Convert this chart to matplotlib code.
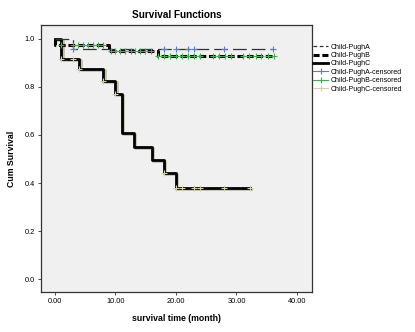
import numpy as np
import matplotlib
matplotlib.use("Agg")
import matplotlib.pyplot as plt
from matplotlib.lines import Line2D

plt.rcParams['font.family'] = ['Liberation Sans', 'DejaVu Sans']

# Kaplan-Meier step curves (time in months, cumulative survival)
a_time = [0, 3, 36.1]
a_surv = [1.0, 0.957, 0.957]
b_time = [0, 0, 9, 17, 36.2]
b_surv = [1.0, 0.975, 0.950, 0.928, 0.928]
c_time = [0, 1, 4, 8, 10, 11, 13, 16, 18, 20, 32.2]
c_surv = [1.0, 0.917, 0.875, 0.825, 0.771, 0.607, 0.551, 0.496, 0.441, 0.378, 0.378]

# censored times
a_cens = [3, 18, 20, 22, 23, 28, 36.1]
b_cens = [1, 3, 3.8, 4.6, 5.4, 6.2, 7.1, 7.9,
          9.2, 10, 10.8, 11.6, 12.5, 13.3, 14.1, 14.9, 15.9,
          17.1, 18, 19, 20, 21, 22, 23, 24, 26.2, 27.1, 28.1, 29.1,
          31.1, 32.1, 33.2, 34.1, 35.2, 36.2]
c_cens = [1, 3, 4, 8, 10, 18, 20, 21, 23, 24, 28, 32.2]

labels = ["Child-PughA", "Child-PughB", "Child-PughC",
          "Child-PughA-censored", "Child-PughB-censored", "Child-PughC-censored"]
blue = '#5b7bd0'
green = '#3cb34a'
tan = '#d6cf9e'


def surv_at(times, surv, t):
    # survival value of a step curve at the censor time
    idx = np.searchsorted(times, t, side='right') - 1
    return np.array(surv)[idx]


fig = plt.figure(figsize=(4.15, 3.32), dpi=100)
ax = fig.add_axes([0.099, 0.12, 0.653, 0.805])
ax.set_facecolor('#f0f0f0')

# C curve with pale shadow
ax.plot(np.array(c_time) + 0.25, np.array(c_surv) - 0.004, drawstyle='steps-post',
        color='#c0c0b0', lw=2.0, zorder=2)
ax.plot(c_time, c_surv, drawstyle='steps-post', color='black', lw=2.0, zorder=3)
ax.plot(b_time, b_surv, drawstyle='steps-post', color='black', lw=2.2,
        dashes=(2.2, 0.9), zorder=3)
ax.plot(a_time, a_surv, drawstyle='steps-post', color='#333333', lw=0.9,
        dashes=(11, 4), zorder=4)

ms = 4
ax.plot(a_cens, [surv_at(a_time, a_surv, t) for t in a_cens], ls='none',
        marker='+', ms=ms, mew=0.8, color=blue, zorder=5)
ax.plot(b_cens, [surv_at(b_time, b_surv, t) for t in b_cens], ls='none',
        marker='+', ms=ms, mew=0.8, color=green, zorder=5)
ax.plot(c_cens, [surv_at(c_time, c_surv, t) for t in c_cens], ls='none',
        marker='+', ms=ms, mew=0.8, color=tan, zorder=5)

ax.set_xlim(-2.3, 42.5)
ax.set_ylim(-0.054, 1.058)
ax.set_xticks([0, 10, 20, 30, 40])
ax.set_xticklabels(['0.00', '10.00', '20.00', '30.00', '40.00'])
ax.set_yticks([0.0, 0.2, 0.4, 0.6, 0.8, 1.0])
ax.set_yticklabels(['0.0', '0.2', '0.4', '0.6', '0.8', '1.0'])
ax.tick_params(labelsize=5.3, length=2.5, width=0.6, pad=2, color='#333333')
for s in ax.spines.values():
    s.set_linewidth(0.9)
    s.set_color('#333333')

ax.set_title('Survival Functions', fontsize=7.2, fontweight='bold', pad=5)
ax.set_xlabel('survival time (month)', fontsize=6.3, fontweight='bold', labelpad=6)
ax.set_ylabel('Cum Survival', fontsize=6.3, fontweight='bold', labelpad=6)

handles = [
    Line2D([], [], color='#333333', lw=0.9, dashes=(3, 2)),
    Line2D([], [], color='black', lw=2.2, dashes=(2, 0.9)),
    Line2D([], [], color='black', lw=2.0),
    Line2D([], [], color=blue, lw=0.8, marker='+', ms=ms, mew=0.8),
    Line2D([], [], color=green, lw=0.8, marker='+', ms=ms, mew=0.8),
    Line2D([], [], color=tan, lw=0.8, marker='+', ms=ms, mew=0.8),
]
fig.legend(handles, labels, loc='upper left', bbox_to_anchor=(0.748, 0.877),
           frameon=False, fontsize=5.0, handlelength=2.2, handletextpad=0.3,
           labelspacing=0.2, borderaxespad=0)

fig.savefig('out.png', dpi=100)
